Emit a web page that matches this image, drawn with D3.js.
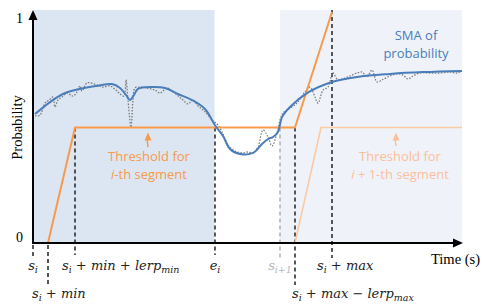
<!DOCTYPE html>
<html>
<head>
<meta charset="utf-8">
<script src="https://cdn.jsdelivr.net/npm/d3@7"></script>
<style>
  body { margin: 0; background: #fff; }
  svg { display: block; }
</style>
</head>
<body>
<svg id="chart" width="491" height="307"></svg>
<script>
// time is in arbitrary units, s_i = 0
const T_MIN = 0
const T_MAX = 43

// key instants on the time axis
const S_I = 0
const S_MIN = 1.5
const S_MIN_LERP = 4.2
const E_I = 18.2
const S_NEXT = 24.7
const S_MAX_LERP = 26.2
const S_MAX = 29.9
const NEXT_PLATEAU = 28.8
const SEG2_END = 42.9
const THRESH = 0.5

// shaded segments [start, end, fill]
const segments = [
  [0.05, 18.15, '#dce6f2'],
  [24.7, 42.9, '#eff3f9']
]

// threshold for i-th segment
const thrT = [S_I, S_MIN, S_MIN_LERP, S_MAX_LERP, S_MAX]
const thrP = [0, 0, THRESH, THRESH, 1.0]

// threshold for i+1-th segment
const thr2T = [S_NEXT, S_MAX_LERP, NEXT_PLATEAU, SEG2_END]
const thr2P = [0, 0, THRESH, THRESH]

// SMA of probability
const smaT = [0.2, 1.7, 3.0, 4.7, 6.4, 7.9, 8.7, 9.3, 9.7, 10.1, 10.5, 11.9, 13.2, 14.5, 15.9, 17.2, 18.2, 19.0, 19.7, 20.7, 22.0, 22.9, 23.5, 24.0, 24.5, 24.9, 25.7, 27.4, 29.9, 32.4, 35.7, 39.0, 42.9]
const smaP = [0.558, 0.61, 0.645, 0.667, 0.68, 0.688, 0.671, 0.641, 0.619, 0.641, 0.667, 0.675, 0.671, 0.645, 0.619, 0.58, 0.51, 0.463, 0.407, 0.385, 0.39, 0.429, 0.45, 0.459, 0.481, 0.545, 0.589, 0.649, 0.697, 0.719, 0.732, 0.74, 0.745]

// raw probability (dotted)
const rawT = [0.2, 0.7, 1.2, 1.6, 2.0, 2.2, 2.5, 2.9, 3.4, 4.0, 4.4, 4.7, 4.9, 5.4, 6.4, 7.0, 7.7, 8.3, 8.7, 9.1, 9.3, 9.5, 9.8, 10.0, 10.2, 10.7, 11.4, 12.2, 12.7, 13.4, 13.9, 14.4, 15.0, 15.5, 16.0, 16.5, 17.0, 17.5, 18.0, 18.4, 18.9, 19.5, 20.0, 20.4, 21.0, 21.5, 22.0, 22.5, 23.0, 23.5, 23.9, 24.4, 24.7, 25.0, 25.7, 26.4, 27.2, 27.7, 28.2, 28.5, 29.0, 29.5, 30.0, 30.5, 31.2, 31.7, 32.4, 32.9, 33.4, 33.9, 34.4, 34.9, 35.7, 36.4, 37.0, 37.5, 38.0, 38.7, 39.7, 40.7, 41.7, 42.4, 42.9]
const rawP = [0.55, 0.554, 0.606, 0.619, 0.632, 0.589, 0.619, 0.632, 0.649, 0.636, 0.654, 0.68, 0.658, 0.693, 0.684, 0.675, 0.68, 0.662, 0.645, 0.636, 0.706, 0.619, 0.502, 0.619, 0.671, 0.675, 0.671, 0.662, 0.649, 0.671, 0.658, 0.641, 0.619, 0.602, 0.619, 0.593, 0.576, 0.554, 0.528, 0.515, 0.481, 0.424, 0.403, 0.394, 0.39, 0.394, 0.39, 0.416, 0.489, 0.459, 0.42, 0.476, 0.532, 0.563, 0.584, 0.606, 0.654, 0.675, 0.632, 0.606, 0.662, 0.675, 0.736, 0.706, 0.714, 0.723, 0.736, 0.74, 0.719, 0.749, 0.697, 0.706, 0.723, 0.732, 0.727, 0.71, 0.723, 0.736, 0.736, 0.736, 0.74, 0.736, 0.745]

// vertical markers: time, top prob, bottom offset px, colour
const markers = [
  [S_I, 0, 14, '#222'],
  [S_MIN, 0, 42, '#222'],
  [S_MIN_LERP, THRESH, 12, '#222'],
  [E_I, THRESH, 12, '#222'],
  [S_NEXT, THRESH, 15, '#b0b0b0'],
  [S_MAX_LERP, THRESH, 42, '#222'],
  [S_MAX, 1.0, 15, '#222']
]

const yTicks = [0, 1]

const SANS = "'Open Sans', 'Noto Sans', sans-serif"
const SERIF = "'Liberation Serif', 'Times New Roman', serif"
const MATH = "'DejaVu Serif', 'Liberation Serif', serif"

const svg = d3.select('#chart')
const x = d3.scaleLinear().domain([T_MIN, T_MAX]).range([33, 463])
const y = d3.scaleLinear().domain([0, 1]).range([243, 12])

// shaded segments
svg.selectAll('rect.seg')
  .data(segments).enter().append('rect')
  .attr('x', d => x(d[0]))
  .attr('width', d => x(d[1]) - x(d[0]))
  .attr('y', y(1) - 2)
  .attr('height', y(0) - y(1) + 2)
  .attr('fill', d => d[2])

// dashed markers
svg.selectAll('line.marker')
  .data(markers).enter().append('line')
  .attr('x1', d => x(d[0])).attr('x2', d => x(d[0]))
  .attr('y1', d => d[1] === 0 ? y(0) + 2 : y(d[1]) - (d[1] === 1 ? 2 : 0))
  .attr('y2', d => y(0) + d[2])
  .attr('stroke', d => d[3])
  .attr('stroke-width', 1.5)
  .attr('stroke-dasharray', '4,3')

const line = d3.line().x(d => x(d[0])).y(d => y(d[1]))
const smooth = d3.line().x(d => x(d[0])).y(d => y(d[1])).curve(d3.curveCatmullRom.alpha(0.5))

// raw probability
svg.append('path')
  .attr('d', smooth(d3.zip(rawT, rawP)))
  .attr('fill', 'none').attr('stroke', '#7a7a7a')
  .attr('stroke-width', 1.3).attr('stroke-dasharray', '1.5,1.5')

// thresholds
svg.append('path')
  .attr('d', line(d3.zip(thr2T, thr2P)))
  .attr('fill', 'none').attr('stroke', '#fbc9a2').attr('stroke-width', 1.6)
svg.append('path')
  .attr('d', line(d3.zip(thrT, thrP)))
  .attr('fill', 'none').attr('stroke', '#f79a4c').attr('stroke-width', 2)

// SMA
svg.append('path')
  .attr('d', smooth(d3.zip(smaT, smaP)))
  .attr('fill', 'none').attr('stroke', '#4a7ebb').attr('stroke-width', 2)

// axes
svg.append('line').attr('x1', x(0)).attr('x2', x(0)).attr('y1', y(0) + 1).attr('y2', y(1) + 6)
  .attr('stroke', '#000').attr('stroke-width', 2)
svg.append('path').attr('d', `M${x(0)},${y(1) - 2} l-4.5,10 h9 z`).attr('fill', '#000')
svg.append('line').attr('x1', x(0) - 1).attr('x2', x(T_MAX) - 6).attr('y1', y(0)).attr('y2', y(0))
  .attr('stroke', '#000').attr('stroke-width', 2)
svg.append('path').attr('d', `M${x(T_MAX)},${y(0)} l-10,-4.5 v9 z`).attr('fill', '#000')

svg.selectAll('text.ytick')
  .data(yTicks).enter().append('text')
  .attr('font-family', SERIF).attr('font-size', 14)
  .attr('x', x(0) - 10).attr('y', d => y(d) + (d === 0 ? -1 : 11))
  .attr('text-anchor', 'end')
  .text(d => d)

svg.append('text').attr('font-family', SERIF).attr('font-size', 14.5)
  .attr('transform', `translate(22,${y(0.5)}) rotate(-90)`)
  .attr('text-anchor', 'middle').text('Probability')
svg.append('text').attr('font-family', SERIF).attr('font-size', 14.5)
  .attr('x', 480).attr('y', 264).attr('text-anchor', 'end').text('Time (s)')

// math labels: [time, dx, baseline, anchor, colour, parts]
const mathLabels = [
  [S_I, 0, 270, 'middle', '#222', [['s'], ['i', 'sub']]],
  [S_MIN, -16, 298, 'start', '#222', [['s'], ['i', 'sub'], [' + min']]],
  [S_MIN_LERP, -13, 270, 'start', '#222', [['s'], ['i', 'sub'], [' + min +  lerp'], ['min', 'sub']]],
  [E_I, 0, 270, 'middle', '#222', [['e'], ['i', 'sub']]],
  [S_NEXT, 0, 270, 'middle', '#b8b8b8', [['s'], ['i+1', 'sub']]],
  [S_MAX, -15, 270, 'start', '#222', [['s'], ['i', 'sub'], [' + max']]],
  [S_MAX_LERP, -3, 298, 'start', '#222', [['s'], ['i', 'sub'], [' + max − lerp'], ['max', 'sub']]]
]

mathLabels.forEach(([t, dx, by, anchor, col, parts]) => {
  const txt = svg.append('text')
    .attr('font-family', MATH).attr('font-style', 'italic').attr('font-size', 13)
    .attr('x', x(t) + dx).attr('y', by)
    .attr('text-anchor', anchor).attr('fill', col)
  parts.forEach(([s, kind], k) => {
    const sp = txt.append('tspan').text(s)
    if (kind === 'sub') sp.attr('font-size', 9.5).attr('dy', 3)
    else if (k > 0) sp.attr('dy', -3)
  })
})

// annotations, one text per line
function note (lines, cx, cy, col) {
  lines.forEach((l, k) => {
    const txt = svg.append('text')
      .attr('font-family', SANS).attr('font-size', 13)
      .attr('fill', col).attr('text-anchor', 'middle')
      .attr('x', cx).attr('y', cy + k * 17.5)
    l.forEach(([s, it]) => txt.append('tspan').text(s).attr('font-style', it ? 'italic' : null))
  })
}

note([[['SMA of']], [['probability']]], 416, 40, '#4a7ebb')
note([[['Threshold for']], [['i', true], ['-th segment']]], 149, 161, '#f79a4c')
note([[['Threshold for']], [['i', true], [' + 1-th segment']]], 400, 161, '#fbc09a')

function arrow (t, top, bottom, col) {
  svg.append('line').attr('x1', x(t)).attr('x2', x(t) - 1)
    .attr('y1', bottom).attr('y2', top + 6)
    .attr('stroke', col).attr('stroke-width', 1.5)
  svg.append('path').attr('d', `M${x(t)},${top} l-3.5,8 h7 z`).attr('fill', col)
}
arrow(11.5, y(THRESH) + 5, 147, '#f79a4c')
arrow(36.3, y(THRESH) + 5, 146, '#fbc09a')
</script>
</body>
</html>
